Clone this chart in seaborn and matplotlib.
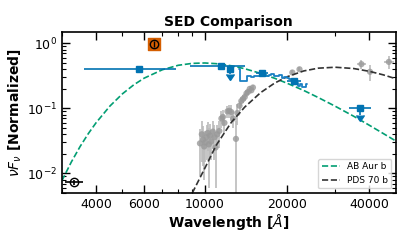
import numpy as np
import pandas as pd
import matplotlib
matplotlib.use("Agg")
import matplotlib.pyplot as plt
from matplotlib.ticker import FixedLocator, FixedFormatter, NullFormatter
import seaborn as sns

# model curves
ab_wave = [3000, 3250, 3500, 3750, 4000, 4500, 5000, 5500, 6000, 7000, 8000, 9000,
           10000, 11000, 12500, 14000, 16000, 18000, 20000, 23000, 26000, 30000,
           35000, 40000, 45000, 50000]
ab_flux = [0.0077, 0.0150, 0.0260, 0.0410, 0.0600, 0.109, 0.168, 0.231, 0.292, 0.394,
           0.461, 0.493, 0.500, 0.488, 0.453, 0.408, 0.346, 0.291, 0.244, 0.189,
           0.147, 0.108, 0.076, 0.055, 0.041, 0.0315]

pds_wave = [9000, 10000, 11000, 12500, 14000, 16000, 18000, 20000, 23000, 26000,
            30000, 35000, 40000, 45000, 50000]
pds_flux = [0.0050, 0.0120, 0.0270, 0.061, 0.105, 0.175, 0.245, 0.307, 0.377, 0.416,
            0.430, 0.411, 0.372, 0.328, 0.286]

# comparison photometry (gray)
gray_wave = [9600, 9750, 9850, 9950, 10050, 10150, 10250, 10350, 10450, 10550, 10700,
             10850, 10950, 11100, 11300, 11500, 11650, 11800, 12100, 12300, 12500,
             12700, 13000, 13150, 13400, 13600, 13800, 14000, 14200, 14400, 14600,
             14800, 15000, 20900, 22200, 37400, 40200, 47100]
gray_flux = [0.029, 0.040, 0.033, 0.026, 0.030, 0.036, 0.042, 0.028, 0.038, 0.031, 0.044,
             0.036, 0.025, 0.040, 0.045, 0.070, 0.074, 0.060, 0.090, 0.092, 0.088,
             0.070, 0.034, 0.085, 0.110, 0.130, 0.140, 0.150, 0.170, 0.180, 0.200,
             0.190, 0.210, 0.357, 0.400, 0.480, 0.366, 0.520]
gray_yerr = [0.020, 0.025, 0.020, 0.018, 0.015, 0.020, 0.020, 0.022, 0.020, 0.015, 0.020,
             0.020, 0.019, 0.015, 0.020, 0.020, 0.020, 0.020, 0.020, 0.020, 0.025,
             0.020, 0.030, 0.030, 0.020, 0.020, 0.020, 0.020, 0.020, 0.020, 0.020,
             0.020, 0.020, 0.030, 0.030, 0.080, 0.100, 0.120]
gray_xerr = [0] * 35 + [1400, 0, 2000]

# AB Aur b photometry (blue)
phot_wave = [5745, 11440, 16230, 21200]
phot_flux = [0.397, 0.45, 0.345, 0.267]
phot_xerr = [2130, 2600, 800, 1200]
phot_yerr = [0.02, 0.03, 0.03, 0.03]

lim_wave = [12370, 37100]
lim_flux = [0.40, 0.10]
lim_xerr = [0, 3300]
lim_yerr = [0.06, 0.02]

# AB Aur b spectrum
spec_wave = [13300, 13700, 14100, 14500, 14900, 15300, 15700, 16100, 16500, 16900,
             17300, 17700, 18100, 18500, 18900, 19300, 19700, 20100, 20500, 20900,
             21300, 21700, 22100, 22500, 22900, 23300, 23700]
spec_flux = [0.40, 0.26, 0.26, 0.31, 0.30, 0.31, 0.32, 0.34, 0.33, 0.31, 0.33, 0.34,
             0.32, 0.31, 0.33, 0.29, 0.30, 0.29, 0.28, 0.27, 0.26, 0.25, 0.22, 0.24,
             0.21, 0.21, 0.24]

# H-alpha and UV points
ha_wave, ha_flux, ha_yerr = 6530, 0.99, 0.10
uv_wave, uv_flux, uv_xerr, uv_yerr = 3334, 0.0073, 245, 0.0007

blue = "#0173B2"

sns.set_style("ticks", {"axes.edgecolor": "black", "xtick.color": "black",
                        "ytick.color": "black", "text.color": "black",
                        "axes.labelcolor": "black"})
fig = plt.figure(figsize=(4.15, 2.44), dpi=100)
ax = fig.add_axes([0.149, 0.209, 0.805, 0.660])

ab = pd.DataFrame({"wave": ab_wave, "flux": ab_flux})
pds = pd.DataFrame({"wave": pds_wave, "flux": pds_flux})
sns.lineplot(data=ab, x="wave", y="flux", ax=ax, color="#029E73", ls="--", lw=1.2,
             label="AB Aur b", zorder=2)
sns.lineplot(data=pds, x="wave", y="flux", ax=ax, color="#333333", ls="--", lw=1.2,
             label="PDS 70 b", zorder=2)

ax.errorbar(gray_wave, gray_flux, yerr=gray_yerr, xerr=gray_xerr, fmt="none",
            ecolor="#bbbbbb", elinewidth=1.2, zorder=1)
sns.scatterplot(x=gray_wave, y=gray_flux, ax=ax, color="#999999", s=20,
                edgecolor="none", alpha=0.8, zorder=1, legend=False)

sns.lineplot(x=spec_wave, y=spec_flux, ax=ax, color="#1a80c4", lw=1.3,
             drawstyle="steps-mid", zorder=3)

ax.errorbar(phot_wave, phot_flux, xerr=phot_xerr, yerr=phot_yerr, fmt="s", ms=4,
            color=blue, elinewidth=1.2, zorder=4)
ax.errorbar(lim_wave, lim_flux, xerr=lim_xerr, yerr=lim_yerr, uplims=True, fmt="s",
            ms=4, color=blue, elinewidth=1.2, zorder=4)

ax.errorbar(ha_wave, ha_flux, yerr=ha_yerr, fmt="o", ms=6, mfc="none", mec="k",
            ecolor="k", elinewidth=1.0, zorder=6)
ax.scatter([ha_wave], [ha_flux], marker="s", s=70, color="#D55E00", zorder=5)
ax.errorbar(uv_wave, uv_flux, xerr=uv_xerr, yerr=uv_yerr, fmt="o", ms=6, mfc="none",
            mec="k", ecolor="k", elinewidth=1.2, zorder=6)

ax.set_xscale("log")
ax.set_yscale("log")
ax.set_xlim(3000, 50000)
ax.set_ylim(0.005, 1.5)
ax.xaxis.set_major_locator(FixedLocator([4000, 6000, 10000, 20000, 40000]))
ax.xaxis.set_major_formatter(FixedFormatter(["4000", "6000", "10000", "20000", "40000"]))
ax.xaxis.set_minor_locator(FixedLocator([3000, 5000, 7000, 8000, 9000, 30000]))
ax.xaxis.set_minor_formatter(NullFormatter())
ax.tick_params(which="both", direction="in", top=True, right=True, labelsize=9)
ax.tick_params(which="major", length=6, width=1)
ax.tick_params(which="minor", length=3, width=0.8)
for s in ax.spines.values():
    s.set_linewidth(1.2)

ax.set_title("SED Comparison", fontsize=10, fontweight="bold", pad=4)
ax.set_xlabel(r"Wavelength [$\AA$]", fontsize=10, fontweight="bold", labelpad=1)
ax.set_ylabel(r"$\nu F_\nu$ [Normalized]", fontsize=10, fontweight="bold", labelpad=2)
ax.legend(loc="lower right", fontsize=6.5, frameon=True)

fig.savefig("out.png", dpi=100)
